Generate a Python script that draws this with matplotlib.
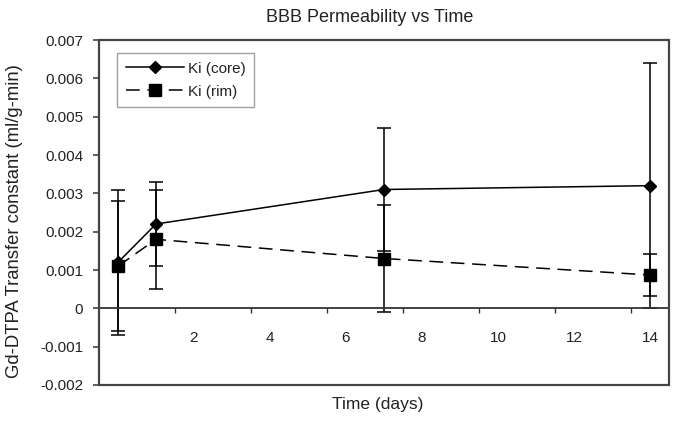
import numpy as np
import matplotlib.pyplot as plt
from matplotlib.patches import Rectangle

plt.rcParams['font.family'] = ['Liberation Sans', 'DejaVu Sans']

days = [0, 1, 7, 14]
ki_core = [0.0012, 0.0022, 0.0031, 0.0032]
ki_core_err = [0.0019, 0.0011, 0.0016, 0.0032]
ki_rim = [0.0011, 0.0018, 0.0013, 0.00087]
ki_rim_err = [0.0017, 0.0013, 0.0014, 0.00056]

x_labels = [2, 4, 6, 8, 10, 12, 14]
x_marks = [1.5, 3.5, 5.5, 7.5, 9.5, 11.5, 13.5]
y_ticks = np.arange(-0.002, 0.0071, 0.001)

txt = '#222222'

fig = plt.figure(figsize=(6.79, 4.24), dpi=100)
ax = fig.add_axes([99/679, 1-385/424, 570/679, 345/424])

# error bars first, lines + markers on top
ax.errorbar(days, ki_rim, yerr=ki_rim_err, fmt='none', ecolor='black',
            elinewidth=1.1, capsize=4.7, capthick=1.1)
ax.errorbar(days, ki_core, yerr=ki_core_err, fmt='none', ecolor='black',
            elinewidth=1.1, capsize=4.7, capthick=1.1)
ax.plot(days, ki_core, color='black', lw=1.1, marker='D', ms=6.3,
        label='Ki (core)', zorder=4)
ax.plot(days, ki_rim, color='black', lw=1.1, marker='s', ms=8,
        linestyle=(0, (9, 5)), label='Ki (rim)', zorder=4)

ax.set_xlim(-0.5, 14.5)
ax.set_ylim(-0.002, 0.007)

# x axis crosses at y = 0, frame drawn separately
for s in ['top', 'right']:
    ax.spines[s].set_visible(False)
ax.spines['bottom'].set_position(('data', 0))
ax.spines['bottom'].set_linewidth(1.3)
ax.spines['bottom'].set_color('#333333')
ax.spines['left'].set_visible(False)
ax.add_patch(Rectangle((0, 0), 1, 1, transform=ax.transAxes, fill=False,
                       ec='#444444', lw=1.6, clip_on=False, zorder=5))

ax.set_xticks(x_labels)
ax.set_xticklabels([str(v) for v in x_labels])
ax.set_xticks(x_marks, minor=True)
ax.tick_params(axis='x', which='major', length=0, pad=16, labelsize=11,
               labelcolor=txt)
ax.tick_params(axis='x', which='minor', length=3.5, width=1, direction='out',
               color='#333333')

ax.set_yticks(y_ticks)
ax.set_yticklabels(['%g' % round(v, 3) if abs(v) > 1e-9 else '0' for v in y_ticks])
ax.tick_params(axis='y', length=4, width=1.2, color='#444444', labelsize=11,
               labelcolor=txt, pad=7.5)

leg = ax.legend(loc='upper left', bbox_to_anchor=(0.032, 0.962), fontsize=11,
                handlelength=3.8, frameon=True, fancybox=False,
                borderaxespad=0, borderpad=0.55, labelspacing=0.6,
                handletextpad=0.3)
leg.get_frame().set_edgecolor('#888888')
leg.get_frame().set_linewidth(1)
for t in leg.get_texts():
    t.set_color(txt)

fig.text(370/679, 1-17/424, 'BBB Permeability vs Time', ha='center',
         va='center', fontsize=13, color=txt)
fig.text(378/679, 1-404/424, 'Time (days)', ha='center', va='center',
         fontsize=12.5, color=txt)
fig.text(15/679, 1-221/424, 'Gd-DTPA Transfer constant (ml/g-min)',
         ha='center', va='center', rotation=90, fontsize=13.3, color=txt)

fig.savefig('out.png', dpi=100)
